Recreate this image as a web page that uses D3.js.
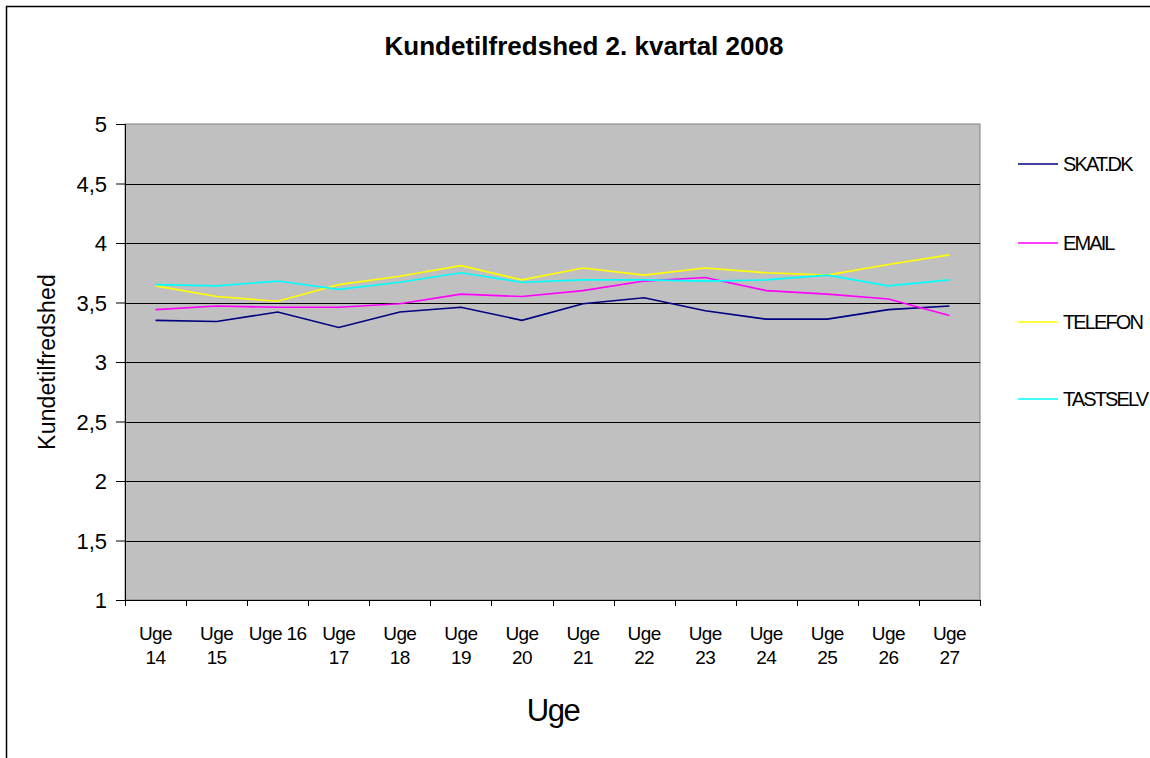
<!DOCTYPE html>
<html>
<head>
<meta charset="utf-8">
<script src="https://cdn.jsdelivr.net/npm/d3@7"></script>
<style>
  body { margin: 0; background: #fff; }
  text { font-family: "Liberation Sans", Arial, sans-serif; fill: #000; }
</style>
</head>
<body>
<div id="chart"></div>
<script>
// data
const weeks = ["Uge 14", "Uge 15", "Uge 16", "Uge 17", "Uge 18", "Uge 19", "Uge 20",
               "Uge 21", "Uge 22", "Uge 23", "Uge 24", "Uge 25", "Uge 26", "Uge 27"];
const weekLabels = [["Uge", "14"], ["Uge", "15"], ["Uge 16"], ["Uge", "17"], ["Uge", "18"], ["Uge", "19"], ["Uge", "20"],
                    ["Uge", "21"], ["Uge", "22"], ["Uge", "23"], ["Uge", "24"], ["Uge", "25"], ["Uge", "26"], ["Uge", "27"]];
const seriesNames = ["SKAT.DK", "EMAIL", "TELEFON", "TASTSELV"];
const skat     = [3.35, 3.34, 3.42, 3.29, 3.42, 3.46, 3.35, 3.49, 3.54, 3.43, 3.36, 3.36, 3.44, 3.47];
const email    = [3.44, 3.47, 3.46, 3.46, 3.49, 3.57, 3.55, 3.60, 3.68, 3.71, 3.60, 3.57, 3.53, 3.39];
const telefon  = [3.64, 3.55, 3.51, 3.65, 3.72, 3.81, 3.69, 3.79, 3.73, 3.79, 3.75, 3.73, 3.82, 3.90];
const tastselv = [3.65, 3.64, 3.68, 3.61, 3.67, 3.75, 3.67, 3.69, 3.69, 3.68, 3.69, 3.73, 3.64, 3.69];
const yTicks = [1, 1.5, 2, 2.5, 3, 3.5, 4, 4.5, 5];
const colors = ["#000080", "#ff00ff", "#ffff00", "#00ffff"];

const width = 1150, height = 758;
const plot = { left: 125, top: 124, right: 980, bottom: 600 };

const svg = d3.select("#chart").append("svg")
    .attr("width", width)
    .attr("height", height);

// ramme om diagrammet
svg.append("rect")
    .attr("x", 6.5).attr("y", 6.5)
    .attr("width", width + 20).attr("height", height + 20)
    .attr("fill", "#fff")
    .attr("stroke", "#000").attr("stroke-width", 1.5);

const x = d3.scaleBand().domain(weeks).range([plot.left, plot.right]);
const y = d3.scaleLinear().domain([1, 5]).range([plot.bottom, plot.top]);

// plotområde
svg.append("rect")
    .attr("x", plot.left).attr("y", plot.top)
    .attr("width", plot.right - plot.left).attr("height", plot.bottom - plot.top)
    .attr("fill", "#c0c0c0")
    .attr("stroke", "#808080");

// gitterlinjer
svg.append("g")
    .selectAll("line")
    .data(yTicks.slice(1, -1))
    .join("line")
    .attr("x1", plot.left).attr("x2", plot.right)
    .attr("y1", d => Math.round(y(d)) + 0.5).attr("y2", d => Math.round(y(d)) + 0.5)
    .attr("stroke", "#000");

// y-akse
const yAxis = svg.append("g")
    .attr("transform", `translate(${plot.left},0)`)
    .call(d3.axisLeft(y).tickValues(yTicks).tickSize(9).tickPadding(9)
        .tickFormat(d => String(d).replace(".", ",")));
yAxis.select(".domain").attr("stroke", "#000");
yAxis.selectAll("text").style("font-size", "22px").attr("dy", "0.36em");

// x-akse
const xAxis = svg.append("g")
    .attr("transform", `translate(0,${plot.bottom})`)
    .call(d3.axisBottom(x).tickSize(0).tickFormat(""));
xAxis.select(".domain").attr("stroke", "#000");

const tickPos = weeks.map(w => x(w)).concat([plot.right]);
xAxis.selectAll(".tk")
    .data(tickPos)
    .join("line")
    .attr("x1", d => Math.round(d) + 0.5).attr("x2", d => Math.round(d) + 0.5)
    .attr("y1", 0).attr("y2", 6)
    .attr("stroke", "#000");

const xl = svg.append("g").selectAll("text")
    .data(weeks)
    .join("text")
    .attr("x", d => x(d) + x.bandwidth() / 2)
    .attr("y", 640)
    .attr("text-anchor", "middle")
    .style("font-size", "19px")
    .style("letter-spacing", "-0.6px");
xl.each(function (d, i) {
    const t = d3.select(this);
    weekLabels[i].forEach((line, j) => {
        t.append("tspan")
            .attr("x", x(d) + x.bandwidth() / 2)
            .attr("dy", j === 0 ? 0 : 24)
            .text(line);
    });
});

// linjer
const data = [skat, email, telefon, tastselv];
const line = d3.line()
    .x((d, i) => x(weeks[i]) + x.bandwidth() / 2)
    .y(d => y(d));

svg.append("g").selectAll("path")
    .data(data)
    .join("path")
    .attr("d", line)
    .attr("fill", "none")
    .attr("stroke", (d, i) => colors[i])
    .attr("stroke-width", 1.6);

// titel
svg.append("text")
    .attr("x", 584).attr("y", 55)
    .attr("text-anchor", "middle")
    .style("font-size", "26px")
    .style("font-weight", "bold")
    .text("Kundetilfredshed 2. kvartal 2008");

// aksetitler
svg.append("text")
    .attr("transform", "translate(55,362) rotate(-90)")
    .attr("text-anchor", "middle")
    .style("font-size", "23px")
    .style("letter-spacing", "0.2px")
    .text("Kundetilfredshed");

svg.append("text")
    .attr("x", 553).attr("y", 721)
    .attr("text-anchor", "middle")
    .style("font-size", "31px")
    .style("letter-spacing", "-1.5px")
    .text("Uge");

// forklaring
const legendY = [164, 243, 322, 399];
const legend = svg.append("g").selectAll("g")
    .data(seriesNames)
    .join("g")
    .attr("transform", (d, i) => `translate(1018,${legendY[i]})`);
legend.append("line")
    .attr("x1", 0).attr("x2", 40)
    .attr("stroke", (d, i) => colors[i])
    .attr("stroke-width", 1.6);
legend.append("text")
    .attr("x", 45).attr("dy", "0.36em")
    .style("font-size", "20px")
    .style("letter-spacing", "-1.9px")
    .text(d => d);
</script>
</body>
</html>
